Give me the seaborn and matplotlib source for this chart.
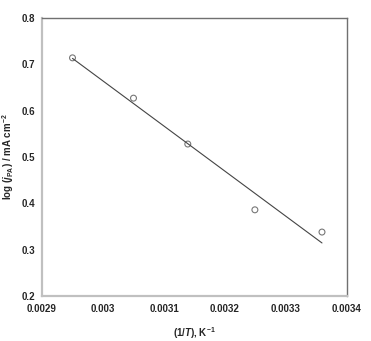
import matplotlib
matplotlib.use("Agg")
import matplotlib.pyplot as plt
import seaborn as sns
import pandas as pd

inv_T = [0.00295, 0.00305, 0.003139, 0.003249, 0.003359]
log_j = [0.714, 0.627, 0.528, 0.386, 0.338]
x_ticks = [0.0029, 0.003, 0.0031, 0.0032, 0.0033, 0.0034]
x_tick_labels = ["0.0029", "0.003", "0.0031", "0.0032", "0.0033", "0.0034"]
y_ticks = [0.2, 0.3, 0.4, 0.5, 0.6, 0.7, 0.8]
y_tick_labels = ["0.2", "0.3", "0.4", "0.5", "0.6", "0.7", "0.8"]

df = pd.DataFrame({"x": inv_T, "y": log_j})

sns.set_style("white")
plt.rcParams['font.family'] = ['Liberation Sans', 'DejaVu Sans']
plt.rcParams['mathtext.fontset'] = 'custom'
plt.rcParams['mathtext.rm'] = 'Liberation Sans:bold'
plt.rcParams['mathtext.it'] = 'Liberation Sans:italic:bold'
plt.rcParams['mathtext.bf'] = 'Liberation Sans:bold'

fig = plt.figure(figsize=(3.71, 3.41), dpi=100)
ax = fig.add_axes([42/371, 1-296/341, (347-42)/371, (296-18)/341])

sns.regplot(data=df, x="x", y="y", ax=ax, ci=None, truncate=True,
            marker="o",
            scatter_kws=dict(s=18, facecolors="none", edgecolors="#555555", linewidths=0.8),
            line_kws=dict(color="#444444", lw=0.8))

ax.set_xlim(0.0029, 0.0034)
ax.set_ylim(0.2, 0.8)
ax.set_xticks(x_ticks)
ax.set_xticklabels(x_tick_labels, fontsize=7, fontweight="bold")
ax.set_yticks(y_ticks)
ax.set_yticklabels(y_tick_labels, fontsize=7, fontweight="bold")
ax.tick_params(axis="both", direction="in", length=2.5, width=0.8, color="#888888", pad=5)
ax.tick_params(axis="x", pad=6)

for side in ["left", "bottom"]:
    ax.spines[side].set_color("#c0c0c0")
    ax.spines[side].set_linewidth(1.6)
for side in ["top", "right"]:
    ax.spines[side].set_color("#707070")
    ax.spines[side].set_linewidth(1.0)
    ax.spines[side].set_visible(True)

ax.set_xlabel(r"(1/$T$), K$^{-1}$", fontsize=7, fontweight="bold", labelpad=8)
ax.set_ylabel("")
fig.text(8/371, 1-157/341, r"log ($j_{\mathrm{PA}}$) / mA cm$^{-2}$", fontsize=7,
         fontweight="bold", rotation=90, ha="center", va="center")

fig.savefig("out.png", dpi=100)
